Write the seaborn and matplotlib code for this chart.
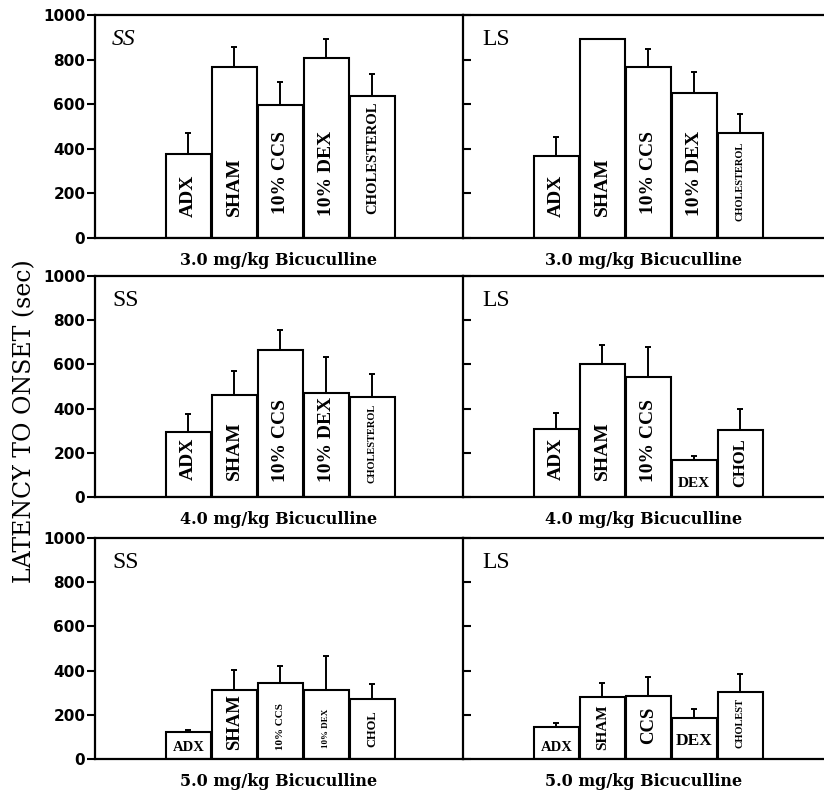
import numpy as np
import matplotlib.pyplot as plt
import seaborn as sns

# groups (x order) and values: mean latency (sec) and upper SEM
groups = ['ADX', 'SHAM', 'CCS', 'DEX', 'CHOL']
doses = ['3.0 mg/kg Bicuculline', '4.0 mg/kg Bicuculline', '5.0 mg/kg Bicuculline']
strains = ['SS', 'LS']

ss_mean = [[377, 769, 598, 806, 637],
           [292, 461, 666, 470, 453],
           [120, 313, 342, 313, 271]]
ss_sem = [[93, 86, 102, 88, 97],
          [85, 111, 89, 163, 104],
          [10, 91, 80, 153, 69]]
ls_mean = [[369, 891, 769, 649, 473],
           [309, 604, 545, 167, 303],
           [144, 281, 287, 187, 304]]
ls_sem = [[83, 0, 80, 96, 82],
          [71, 84, 133, 17, 93],
          [20, 62, 84, 38, 82]]

# text written inside the bars
ss_text = [['ADX', 'SHAM', '10% CCS', '10% DEX', 'CHOLESTEROL'],
           ['ADX', 'SHAM', '10% CCS', '10% DEX', 'CHOLESTEROL'],
           ['ADX', 'SHAM', '10% CCS', '10% DEX', 'CHOL']]
ls_text = [['ADX', 'SHAM', '10% CCS', '10% DEX', 'CHOLESTEROL'],
           ['ADX', 'SHAM', '10% CCS', 'DEX', 'CHOL'],
           ['ADX', 'SHAM', 'CCS', 'DEX', 'CHOLEST']]

# (font size, rotation, offset above baseline in points) for each in-bar label
ss_style = [[(14, 90, 15), (14, 90, 16), (14, 90, 17), (14, 90, 16), (10.5, 90, 17)],
            [(14, 90, 12), (14, 90, 12), (14, 90, 11), (14, 90, 11), (7.5, 90, 10)],
            [(10.5, 0, 8), (13.5, 90, 6.5), (8, 90, 6.5), (6.5, 90, 8), (9, 90, 8.5)]]
ls_style = [[(14, 90, 15), (14, 90, 16), (14, 90, 17), (14, 90, 16), (7.5, 90, 12)],
            [(14, 90, 12), (14, 90, 12), (14, 90, 11), (11, 0, 10), (12, 90, 7)],
            [(10.5, 0, 8), (11, 90, 6.5), (13.5, 90, 11), (12.5, 0, 13), (7.5, 90, 8)]]

sns.set_style('ticks', {'axes.edgecolor': 'black', 'text.color': 'black',
                        'axes.labelcolor': 'black',
                        'xtick.color': 'black', 'ytick.color': 'black'})
plt.rcParams['font.family'] = ['Liberation Serif', 'DejaVu Serif']
plt.rcParams['axes.linewidth'] = 1.6

fig = plt.figure(figsize=(8.24, 7.99), dpi=100)

W, H = 824, 799
rows_px = [(15, 238), (276, 497), (538, 759)]
cols_px = [(95, 463), (463, 824)]

for r in range(3):
    for c in range(2):
        top, bot = rows_px[r]
        lft, rgt = cols_px[c]
        ax = fig.add_axes([lft / W, 1 - bot / H, (rgt - lft) / W, (bot - top) / H])
        mean = ss_mean[r] if c == 0 else ls_mean[r]
        sem = ss_sem[r] if c == 0 else ls_sem[r]
        text = ss_text[r] if c == 0 else ls_text[r]
        style = ss_style[r] if c == 0 else ls_style[r]

        sns.barplot(x=groups, y=mean, order=groups, color='white', saturation=1,
                    edgecolor='black', linewidth=1.5, width=0.98, ax=ax, errorbar=None)
        xs = np.arange(len(groups))
        ax.errorbar(xs, mean, yerr=[np.zeros(len(sem)), sem], fmt='none',
                    ecolor='black', elinewidth=1.4, capsize=2.5, capthick=1.4, zorder=1)

        for x, t, (fs, rot, off) in zip(xs, text, style):
            ax.annotate(t, (x, 0), xytext=(0, off), textcoords='offset points',
                        rotation=rot, ha='center',
                        va='bottom' if rot == 90 else 'center',
                        fontsize=fs, fontweight='bold')

        ax.set_ylim(0, 1000)
        ax.set_yticks(range(0, 1001, 200))
        ax.spines['right'].set_visible(False)
        if c == 0:
            ax.set_xlim(-2.03, 5.97)
            ax.tick_params(axis='y', direction='out', length=6, width=1.5,
                           labelsize=11, pad=1)
            for lab in ax.get_yticklabels():
                lab.set_fontfamily(['DejaVu Sans'])
                lab.set_fontweight('bold')
            ax.text(0.046, 0.89, strains[0], transform=ax.transAxes, fontsize=17,
                    style='italic' if r == 0 else 'normal', va='center')
        else:
            ax.set_xlim(-2.03, 5.82)
            ax.tick_params(axis='y', direction='in', length=6, width=1.5,
                           labelleft=False)
            ax.text(0.055, 0.89, strains[1], transform=ax.transAxes, fontsize=17,
                    va='center')
        ax.set_xticks([])
        ax.set_xlabel(doses[r], fontsize=11.5, fontweight='bold', labelpad=10,
                      family=['DejaVu Serif'])
        ax.set_ylabel('')

fig.text(0.03, 0.473, 'LATENCY TO ONSET (sec)', rotation=90, ha='center',
         va='center', fontsize=17, family=['DejaVu Serif'])

plt.savefig('out.png', dpi=100)
